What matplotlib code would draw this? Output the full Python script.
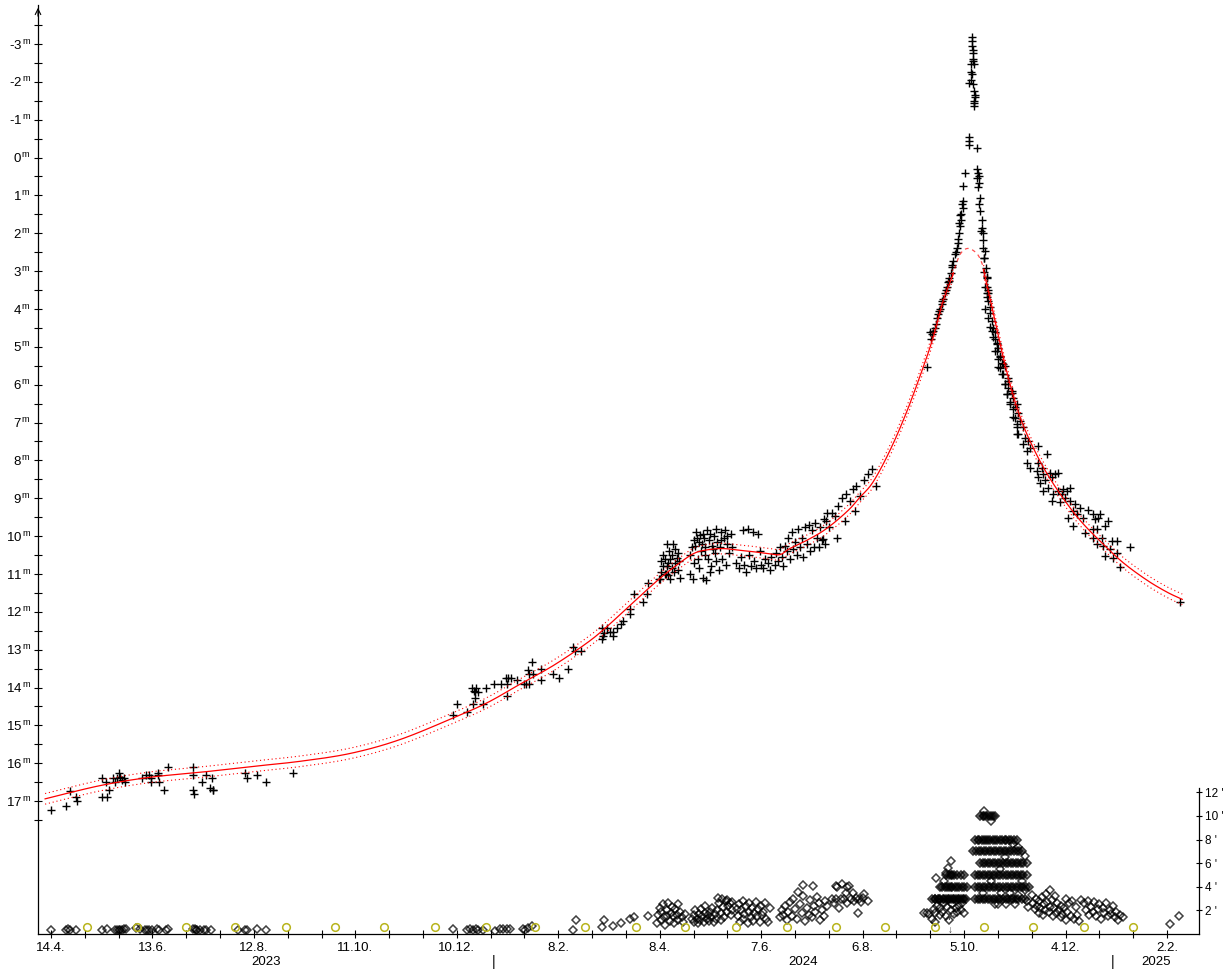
import datetime as dt
import numpy as np
import matplotlib
matplotlib.use('Agg')
import matplotlib.pyplot as plt
from matplotlib import transforms

plt.rcParams['font.family'] = ['Liberation Sans', 'DejaVu Sans']
plt.rcParams['mathtext.fontset'] = 'custom'
plt.rcParams['mathtext.rm'] = 'Liberation Sans'

# x axis runs in days counted from 14.4.2023
T0 = dt.date(2023, 4, 14)

# ---- total magnitude estimates (day, mag) ----
mag_2023 = [(0, 17.23), (8.9, 17.12), (11, 16.72), (15, 16.9), (15.4, 17.0), (30, 16.4), (30, 16.9),
            (33, 16.9), (32.5, 16.5), (34, 16.7), (36.7, 16.4), (37.8, 16.5), (39, 16.4), (40, 16.25),
            (41, 16.35), (42, 16.45), (43, 16.4), (44, 16.5), (54, 16.4), (56, 16.3), (58, 16.3),
            (59, 16.5), (59.3, 16.4), (63, 16.25), (63.5, 16.3), (64, 16.5), (67, 16.7), (69, 16.1),
            (84, 16.1), (84, 16.3), (84, 16.7), (84.5, 16.8), (89, 16.5), (91.5, 16.3), (95, 16.4),
            (95.5, 16.7), (94, 16.65), (96, 16.7), (115, 16.25), (116, 16.4), (122, 16.3), (127, 16.5),
            (143, 16.25)]

mag_rise = [(237.7, 14.72), (240, 14.43), (246, 14.64), (249.6, 14.43), (249, 14.0), (250, 14.1),
            (251, 14.13), (251.5, 14.0), (252.5, 14.13), (251, 14.27), (255.5, 14.43), (257, 14.0),
            (262, 13.9), (266, 13.9), (269, 13.74), (270, 13.74), (272, 13.74), (269.7, 13.9),
            (269.7, 14.21), (275.6, 13.8), (279.7, 13.9), (281, 13.9), (282.7, 13.9), (282, 13.53),
            (284.5, 13.32), (282.7, 13.63), (285, 13.63), (289.8, 13.8), (290, 13.5), (297, 13.63),
            (300.4, 13.74), (305.7, 13.5), (308.7, 12.92), (310, 13.03), (313.4, 13.03), (326, 12.42),
            (326.5, 12.63), (326, 12.73), (327, 12.55), (329, 12.42), (330.5, 12.52), (332.5, 12.52),
            (332.5, 12.63), (334.7, 12.42), (337, 12.31), (338, 12.23), (342.4, 11.92), (342.4, 12.05),
            (344.8, 11.52), (350, 11.73), (352.5, 11.52), (353, 11.23), (359.5, 11.12)]

mag_plateau = [(360.5, 10.65), (361, 10.95), (362, 10.5), (362, 10.8), (363, 10.6), (363, 10.99),
               (363.5, 11.0), (364, 10.78), (364.5, 10.2), (365, 10.7), (365, 11.04), (365.5, 10.4),
               (366, 10.6), (366, 11.12), (367, 10.49), (367.5, 10.83), (368, 10.2), (368.5, 10.95),
               (369, 10.7), (369, 10.33), (370, 10.57), (370.5, 10.44), (371, 10.9), (371.5, 10.65),
               (372, 11.1), (360, 11.12),
               (377.9, 10.99), (379.7, 11.12), (378, 10.5), (379, 10.3), (380, 10.1), (381, 10.25),
               (382, 10.05), (382.5, 10.6), (383, 10.15), (384, 9.98), (384.5, 10.4), (385.6, 11.1),
               (385, 10.2), (386, 10.05), (387.3, 11.15), (387, 10.3), (388, 9.85), (388.5, 10.6),
               (389, 10.1), (390, 9.95), (390.5, 10.8), (391, 10.25), (392, 10.0), (392.5, 10.45),
               (393, 9.8), (394, 10.15), (395, 10.9), (395.5, 10.3), (396, 9.9), (397, 10.6),
               (398, 10.05), (398.5, 9.83), (399, 10.75), (400, 10.2), (401, 10.45), (402, 9.95),
               (403, 10.3), (380.5, 10.7), (383.5, 10.85), (386.5, 10.5), (389.5, 10.95), (393.5, 10.65),
               (396.5, 10.1), (399.5, 10.0), (381.5, 9.9), (385.5, 9.95), (391.5, 10.35),
               (405, 10.7), (407, 10.85), (408, 10.55), (409, 9.85), (410, 10.75), (411, 10.95),
               (412, 9.82), (413, 10.5), (414, 10.8), (415, 9.9), (416, 10.65), (417, 10.85),
               (418, 9.95), (419, 10.4), (420, 10.75), (421, 10.85), (422, 10.6), (424, 10.7),
               (425, 10.9), (426, 10.55), (428, 10.75), (429, 10.45), (430, 10.65), (431, 10.3),
               (432, 10.55), (433, 10.8),
               (434, 10.25), (435, 10.4), (436, 10.05), (437, 10.6), (438, 9.9), (439, 10.35),
               (440, 10.15), (441, 10.5), (442, 9.8), (443, 10.3), (444, 10.05), (445, 10.55),
               (446, 9.75), (447, 10.2), (448, 9.7), (449, 10.4), (450, 9.85), (451, 10.3), (452, 9.65),
               (453, 10.05), (454, 10.3), (455, 9.75), (456, 10.1), (456.5, 10.07), (457, 9.55),
               (458, 10.2), (459, 9.4), (460, 9.75), (464.8, 10.04),
               (458.3, 9.59), (462, 9.4), (463.6, 9.46), (465.4, 9.2), (467.8, 8.98), (469.5, 9.59),
               (470, 8.88), (472.5, 9.06), (474.3, 8.75), (475.4, 9.33), (476, 8.67), (478.4, 8.93),
               (480.8, 8.53), (483, 8.37), (485.5, 8.22), (487.9, 8.67)]

mag_peak_in = [(517.8, 5.52), (519.8, 4.61), (520.9, 4.65), (521.8, 4.57), (523.4, 4.39), (523.8, 4.25),
               (524.7, 4.12), (525.7, 3.99), (526.7, 3.86), (527.7, 3.73), (528.7, 3.59), (529.7, 3.43),
               (530.7, 3.30), (531.2, 3.17), (532, 3.04), (532.6, 2.9), (533.6, 2.73), (534.6, 2.54),
               (535.6, 2.4), (536.2, 2.27), (536.5, 2.14), (537.1, 2.0), (537.6, 1.8), (538, 1.66),
               (538.2, 1.48), (538.6, 1.22), (539.2, 1.14), (539.6, 0.74), (540.6, 0.42), (539.5, 1.32),
               (537.5, 1.53), (537.2, 1.72), (520.5, 4.8), (522.5, 4.5), (525, 4.05), (527, 3.8),
               (529, 3.5), (531, 3.25), (533, 2.85), (535, 2.5),
               (544.5, -3.18), (544.8, -3.09), (544.5, -2.96), (545.1, -2.83), (545.4, -2.75),
               (545.1, -2.61), (543.9, -2.48), (546.0, -2.48), (543.9, -2.25), (543.0, -1.98),
               (545.1, -1.95), (546.0, -1.77), (546.4, -1.59), (546.0, -1.45), (545.8, -1.35),
               (543.0, -0.55), (543.0, -0.45), (543.0, -0.34), (547.8, -0.26), (545.5, -2.55),
               (544.8, -2.2), (546.2, -1.65), (545.6, -1.5), (544.0, -2.05)]

mag_peak_out = [(547.8, 0.29), (548.4, 0.42), (547.8, 0.55), (549, 0.66), (548.4, 0.79), (549.4, 1.06),
                (549, 1.22), (549.4, 1.4), (550.4, 1.66), (550.4, 1.85), (551, 2.0), (551.4, 2.19),
                (552.4, 2.46), (551.8, 2.64), (553, 2.91), (553.4, 3.17), (553.7, 3.43), (554.3, 3.59),
                (548.5, 0.48), (550, 1.93), (551, 2.38), (552, 2.64), (551.7, 3.03), (553.3, 3.16),
                (554.3, 3.51), (553.3, 3.69), (555.3, 3.96), (555.3, 4.48), (557.3, 4.75), (559.3, 4.92),
                (558.2, 5.10), (561.2, 5.28), (560.2, 5.54), (563.1, 5.45), (562.2, 5.71), (564.2, 5.98),
                (566.1, 5.89), (565.2, 6.24), (568.1, 6.16), (567.1, 6.51), (570.1, 6.60), (569.1, 6.86),
                (571.1, 7.04), (571.1, 7.30), (552.3, 3.43), (553.3, 3.59), (554.1, 3.78), (552.3, 3.99),
                (555.3, 4.10), (554.1, 4.23), (556.3, 4.31), (557.1, 4.49), (556.3, 4.57), (558.2, 4.62),
                (558.2, 4.78), (559.3, 4.89), (560, 5.02), (559.3, 5.10), (561.2, 5.23), (560, 5.31),
                (562.2, 5.42), (561.2, 5.55), (564.2, 5.50), (563, 5.71), (566, 5.81), (564.2, 5.97),
                (566, 6.08), (568.1, 6.21), (565.2, 6.24), (568.9, 6.34), (567.1, 6.47), (571.1, 6.50),
                (568.9, 6.63), (571.8, 6.74), (570.1, 6.87), (573, 6.95), (571.1, 7.13), (574.8, 7.13),
                (571.8, 7.29)]

mag_tail = [(576, 7.40), (577.8, 7.48), (574.8, 7.56), (577, 7.74), (579, 7.66), (583.7, 7.61),
            (588.8, 7.82), (577, 8.06), (579, 8.19), (583.7, 8.06), (582.9, 8.27), (585.9, 8.19),
            (583.7, 8.45), (586.6, 8.35), (584.9, 8.59), (587.8, 8.53), (590.8, 8.32), (591.8, 8.45),
            (593.7, 8.35), (595.5, 8.32), (586.6, 8.80), (589.6, 8.72), (592.5, 8.88), (591.8, 9.06),
            (595.5, 8.80), (597.7, 8.88), (598.5, 8.75), (600.6, 8.80), (602.6, 8.72), (596.7, 9.11),
            (599.6, 8.98), (602.6, 9.06), (605.6, 9.14), (604.4, 9.33), (608.5, 9.25), (601.4, 9.51),
            (606.6, 9.41), (610.3, 9.51), (604.4, 9.72), (613.2, 9.30), (616.2, 9.41), (619.2, 9.51),
            (617.4, 9.54), (620.3, 9.41), (625.1, 9.59), (623.3, 9.72), (616.2, 9.80), (618.4, 9.80),
            (611.5, 9.91), (616.2, 10.04), (621.3, 10.04), (627.3, 10.12), (630.2, 10.12), (618.4, 10.20),
            (622.1, 10.25), (626.3, 10.33), (630.2, 10.44), (638.1, 10.30), (623.3, 10.52), (628, 10.59),
            (632.2, 10.81), (667.7, 11.73)]

# ---- fitted light curve (day, mag) and its +/- band ----
fit_curve = [(-3.5, 16.94), (29, 16.59), (58.5, 16.37), (88, 16.24), (117.7, 16.09), (147, 15.95),
             (177, 15.74), (206, 15.38), (238, 14.80), (258, 14.40), (277, 13.92), (297, 13.42),
             (317, 12.82), (329, 12.38), (344, 11.76), (360, 11.12), (372, 10.70), (381, 10.44),
             (390, 10.35), (398, 10.33), (406, 10.37), (415, 10.41), (424, 10.46), (431, 10.49),
             (436, 10.35), (441, 10.24), (447, 10.11), (455, 9.91), (461, 9.72), (467, 9.50),
             (473, 9.25), (478, 8.99), (486, 8.58), (496, 7.75), (506, 6.72), (515.7, 5.55),
             (521.6, 4.76), (527.5, 3.80), (532.8, 3.17), (533.6, 3.05), (537.6, 2.56), (542.3, 2.40),
             (547.6, 2.54), (550.6, 2.80), (551.5, 2.98), (553.5, 3.36), (557, 4.06), (563, 5.25),
             (569, 6.28), (575, 7.08), (583, 7.86), (590.8, 8.48), (600.8, 9.14), (610.3, 9.67),
             (622, 10.2), (634, 10.70), (648, 11.16), (660, 11.48), (669, 11.67)]
fit_band = 0.14
dashed_from, dashed_to = 533.6, 551.5

# ---- coma diameter (day, arcmin) ----
coma_2023 = [(0, 0.35), (8.9, 0.35), (10, 0.4), (11, 0.3), (15, 0.3), (30, 0.3), (33, 0.4), (37.8, 0.3),
             (39, 0.35), (40, 0.3), (41, 0.35), (42, 0.3), (43, 0.4), (44.4, 0.45), (50, 0.5), (52.6, 0.4),
             (55.6, 0.35), (57, 0.3), (58, 0.35), (59.9, 0.3), (62.7, 0.4), (63.9, 0.35), (68, 0.35),
             (69.2, 0.4), (84, 0.45), (85, 0.4), (85.7, 0.35), (86.5, 0.3), (88, 0.3), (90.4, 0.3),
             (91.6, 0.35), (94.6, 0.3), (110.6, 0.35), (114.7, 0.3), (115.9, 0.3), (121.8, 0.4),
             (127.2, 0.3)]

coma_winter = [(237.7, 0.4), (246, 0.35), (247.8, 0.4), (249.6, 0.3), (251.3, 0.45), (252.5, 0.35),
               (255.5, 0.3), (262.6, 0.25), (265.5, 0.4), (267.3, 0.45), (269.7, 0.45), (271.4, 0.45),
               (279, 0.45), (280.3, 0.3), (282, 0.5), (284.5, 0.65), (308.5, 0.35), (310.3, 1.2),
               (325.7, 0.6), (327.2, 1.2), (332.4, 0.7), (337, 0.9), (342.4, 1.25), (345, 1.4),
               (353.2, 1.5)]

coma_spring = [(358.5, 0.9), (359, 1.6), (360, 2.2), (360.5, 1.2), (361, 1.9), (362, 2.5), (362.5, 1.4),
               (363, 0.8), (364, 2.0), (364.5, 1.5), (365, 2.6), (366, 1.1), (366.5, 1.8), (367, 2.3),
               (368, 1.5), (368.5, 0.9), (369, 2.1), (370, 1.6), (370.5, 2.5), (371, 1.2), (372, 1.9),
               (373, 1.4), (374, 1.0), (375, 1.7),
               (379, 1.3), (380, 1.0), (380.5, 1.6), (381, 2.0), (382, 1.3), (382.5, 0.9), (383, 1.7),
               (384, 1.2), (384.5, 2.1), (385, 1.5), (386, 1.0), (386.5, 1.8), (387, 2.4), (388, 1.3),
               (388.5, 1.6), (389, 1.1), (390, 1.9), (390.5, 1.4), (391, 2.2), (392, 1.0), (392.5, 1.7),
               (393, 1.3), (394, 2.0), (394.5, 3.05), (395, 2.6), (396, 1.2), (396.5, 1.8), (397, 3.0),
               (397.5, 2.3), (398, 1.4), (399, 2.8), (399.5, 1.9), (400, 2.9), (400.5, 2.4),
               (401.5, 2.6), (402, 1.6), (402.5, 2.7), (403, 2.0),
               (405.5, 2.1), (406, 1.5), (407, 2.5), (407.5, 1.0), (408, 2.0), (409, 2.8), (409.5, 1.3),
               (410, 1.7), (411, 2.4), (412, 0.9), (412.5, 1.9), (413, 2.6), (414, 1.4), (414.5, 2.2),
               (415, 1.1), (416, 1.8), (417, 2.7), (417.5, 1.5), (418, 2.1), (419, 1.0), (420, 2.4),
               (420.5, 1.6), (421, 1.9), (422, 2.6), (423, 1.3), (424, 1.0), (425, 2.2),
               (431, 1.4), (432, 2.0), (433, 1.6), (434, 2.4), (435, 1.2), (436, 1.9), (437, 2.7),
               (438, 1.5), (439, 3.0), (440, 2.1), (441, 1.3), (442, 3.6), (443, 2.5), (444, 1.8),
               (444.7, 4.15), (445, 3.2), (446, 1.1), (447, 2.2), (448, 1.6), (449, 2.9), (450, 1.4),
               (450.6, 4.05), (451, 2.4), (452, 1.9), (453, 3.1), (454, 2.6), (455, 1.2), (456, 2.0),
               (457, 1.5), (458, 2.8), (459, 2.4),
               (462, 3.0), (463, 2.6), (464, 4.1), (464.5, 3.0), (465, 4.0), (466, 2.2), (467, 3.0),
               (468, 4.2), (469, 3.0), (470, 3.5), (470.5, 4.0), (471, 2.6), (472, 4.05), (473, 3.0),
               (474, 3.5), (475, 2.8), (476, 3.05), (477, 1.8), (478, 3.0), (479, 2.7), (480, 3.05),
               (481, 3.4), (483, 2.8)]

rows_before_peak = {3: [521, 522.5, 523, 524.5, 525, 526, 527.5, 528, 529, 530.5, 531, 532, 533.5, 534,
                        535, 536.5, 537, 538, 539.5, 540, 541],
                    4: [525.5, 527, 528.5, 530, 531, 532, 533, 534.5, 536, 537, 538.5, 540, 541.5],
                    5: [529, 531, 532, 533, 534, 536, 538, 540]}
rows_after_peak = {3: [546.5, 548, 549.5, 551, 552.5, 554, 555.5, 557, 558.5, 560, 561.5, 563, 564.5,
                       566, 567.5, 569, 570.5, 572, 574, 576],
                   4: [546.5, 548, 549.5, 551, 552.5, 554, 555.5, 557, 558.5, 560, 561.5, 563, 564.5,
                       566, 567.5, 569, 570.5, 572, 573.5, 575, 576.5, 578.5],
                   5: [546.5, 548, 549.5, 551, 552.5, 554, 555.5, 557, 558.5, 560, 561.5, 563, 564.5,
                       566, 567.5, 569, 570.5, 572, 573.5, 575, 577],
                   6: [549.5, 551, 552.5, 554, 555.5, 557, 558.5, 560, 561.5, 563, 564.5, 566, 567.5,
                       569, 570.5, 572, 573.5, 575, 577],
                   7: [545.5, 547, 548.5, 550, 551.5, 553, 554.5, 556, 557.5, 559, 560.5, 562, 563.5,
                       565, 566.5, 568, 569.5, 571, 572.5, 574],
                   8: [546.5, 548, 549, 550.5, 552, 553, 554, 555.5, 557, 558, 559.5, 561, 562.5, 564,
                       565, 566.5, 568, 569.5, 571],
                   10: [549.5, 551, 552, 553, 554.5, 556, 557, 558.5]}
coma_peak_extra = [(532.4, 6.15), (530.2, 5.6), (529.5, 5.2), (523.5, 4.75), (528, 4.5),
                   (518, 1.8), (519.5, 1.7), (521, 1.3), (522, 2.1), (523, 1.8), (524, 2.4), (525.5, 1.6),
                   (526, 2.2), (527, 1.9), (528, 2.6), (529, 1.5), (530, 2.3), (531, 1.2), (532, 2.0),
                   (533, 2.5), (534, 1.7), (535, 2.2), (536, 1.9), (537, 2.4), (538, 2.0), (539, 2.6),
                   (540, 1.8), (522.7, 1.05), (516.5, 1.75),
                   (552, 10.45), (556, 9.6), (558, 2.5), (560, 2.5), (562, 3.5), (565, 2.5), (567, 3.5),
                   (570, 2.5), (572, 3.3), (574, 4.5), (576, 3.7), (577, 2.8), (578, 2.3), (576, 6.6),
                   (572, 7.4), (569, 7.6), (551, 3.5), (556, 4.5), (561, 5.5), (564, 6.5)]

coma_tail = [(580, 3.3), (581, 2.6), (582, 2.1), (582.5, 3.0), (583, 2.4), (584, 1.8), (584.5, 2.8),
             (585, 2.2), (586, 3.1), (586.5, 1.6), (587, 2.5), (588, 2.0), (588.5, 3.4), (589, 2.7),
             (590, 1.9), (590.5, 2.3), (591, 3.7), (592, 2.9), (592.5, 1.5), (593, 2.2), (594, 3.2),
             (594.5, 1.8), (595, 2.6), (596, 2.0), (597, 1.4), (597.5, 2.4), (598, 1.7), (599, 2.2),
             (600, 1.2), (600.5, 3.0), (601, 1.9), (602, 2.6), (603, 1.5), (604, 2.8), (605, 1.3),
             (606, 2.3), (607, 1.6), (608, 1.1), (609, 2.9), (611, 2.6), (612, 2.0), (613, 2.8),
             (614, 1.6), (615, 2.3), (616, 1.9), (617, 2.7), (618, 1.5), (619, 2.1), (620, 2.5),
             (621, 1.3), (622, 2.2), (623, 1.8), (624, 2.6), (625, 1.5), (626, 2.0), (627, 1.7),
             (628, 2.4), (629, 1.4), (630, 1.9), (631, 1.2), (632, 1.6), (634, 1.4),
             (661.7, 0.85), (667, 1.5)]

full_moons = ['2023-05-05', '2023-06-04', '2023-07-03', '2023-08-01', '2023-08-31', '2023-09-29',
              '2023-10-28', '2023-11-27', '2023-12-27', '2024-01-25', '2024-02-24', '2024-03-25',
              '2024-04-23', '2024-05-23', '2024-06-22', '2024-07-21', '2024-08-19', '2024-09-18',
              '2024-10-17', '2024-11-15', '2024-12-15', '2025-01-13']
moon_level = 0.57
perihelion = '2024-09-27'

label_dates = ['2023-04-14', '2023-06-13', '2023-08-12', '2023-10-11', '2023-12-10', '2024-02-08',
               '2024-04-08', '2024-06-07', '2024-08-06', '2024-10-05', '2024-12-04', '2025-02-02']
mag_ticks = list(range(-3, 18))
coma_ticks = [2, 4, 6, 8, 10, 12]


def day(s):
    return (dt.date.fromisoformat(s) - T0).days


def catmull_rom(pts, n=12):
    # smooth path through the read-off points of the fitted curve
    p = np.asarray(pts, dtype=float)
    p = np.vstack([p[0], p, p[-1]])
    out = []
    t = np.linspace(0, 1, n, endpoint=False)[:, None]
    for i in range(1, len(p) - 2):
        p0, p1, p2, p3 = p[i - 1], p[i], p[i + 1], p[i + 2]
        seg = 0.5 * ((2 * p1) + (-p0 + p2) * t + (2 * p0 - 5 * p1 + 4 * p2 - p3) * t ** 2
                     + (-p0 + 3 * p1 - 3 * p2 + p3) * t ** 3)
        out.append(seg)
    out.append(p[-2][None, :])
    return np.vstack(out)


x_min, x_max = -7.7, 678.9
edge = (0, 0, 0, 0.75)

fig = plt.figure(figsize=(12.27, 9.72), dpi=100)
W, H = 1227, 972
ax = fig.add_axes([38 / W, 38 / H, 1161 / W, 929 / H])
axd = fig.add_axes([38 / W, 38 / H, 1161 / W, 146 / H])

# magnitude estimates
for part in [mag_2023, mag_rise, mag_plateau, mag_peak_in, mag_peak_out, mag_tail]:
    d, m = zip(*part)
    ax.plot(d, m, '+', color='black', ms=5.5, mew=1.0, zorder=2)

# fitted curve, dashed around the maximum
curve = catmull_rom(fit_curve)
fd, fm = curve[:, 0], curve[:, 1]
solid_l = fd <= dashed_from
solid_r = fd >= dashed_to
peak = (fd >= dashed_from - 0.5) & (fd <= dashed_to + 0.5)
for msk in [solid_l, solid_r]:
    ax.plot(fd[msk], fm[msk], color='red', lw=0.9, zorder=3)
    ax.plot(fd[msk], fm[msk] - fit_band, color='red', lw=0.8, ls=(0, (1, 2.5)), zorder=3)
    ax.plot(fd[msk], fm[msk] + fit_band, color='red', lw=0.8, ls=(0, (1, 2.5)), zorder=3)
ax.plot(fd[peak], fm[peak], color='red', lw=0.9, ls=(0, (3, 3)), alpha=0.7, zorder=3)

ax.set_xlim(x_min, x_max)
ax.set_ylim(20.51, -4.03)
ax.spines['top'].set_visible(False)
ax.spines['right'].set_visible(False)
ax.spines['left'].set_linewidth(0.9)
ax.spines['bottom'].set_linewidth(0.9)

ax.set_yticks(mag_ticks)
ax.set_yticklabels([f'{v}$^{{\\,\\mathrm{{m}}}}$' for v in mag_ticks])
ax.set_yticks(np.arange(-3.5, 18, 1.0), minor=True)

ax.set_xticks([day(s) for s in label_dates])
ax.set_xticklabels([f'{dt.date.fromisoformat(s).day}.{dt.date.fromisoformat(s).month}.' for s in label_dates])
ax.set_xticks(np.arange(0, 661, 20), minor=True)
ax.tick_params(which='both', direction='inout', length=6, width=0.8, labelsize=9.5, pad=2)
ax.tick_params(axis='x', which='major', pad=3)
ax.annotate('', xy=(0, 1.0), xytext=(0, 0.985), xycoords='axes fraction',
            arrowprops=dict(arrowstyle='->', lw=0.8, color='black'))

# year row under the dates
trans = transforms.blended_transform_factory(ax.transData, ax.transAxes)
bounds = [x_min, day('2024-01-01'), day('2025-01-01'), x_max]
for i, yr in enumerate(['2023', '2024', '2025']):
    ax.text((bounds[i] + bounds[i + 1]) / 2, -0.030, yr, transform=trans,
            ha='center', va='center', fontsize=9.5)
for b in bounds[1:3]:
    ax.text(b, -0.030, '|', transform=trans, ha='center', va='center', fontsize=10)

# coma diameter panel
axd.patch.set_alpha(0)
for part in [coma_2023, coma_winter, coma_spring, coma_peak_extra, coma_tail]:
    d, c = zip(*part)
    axd.plot(d, c, 'D', mfc='none', mec=edge, ms=4, mew=1.1, zorder=2)
for rows in [rows_before_peak, rows_after_peak]:
    for level, days in rows.items():
        axd.plot(days, [level] * len(days), 'D', mfc=(0, 0, 0, 0.35), mec=edge, ms=4.3, mew=1.2, zorder=2)

axd.plot([day(s) for s in full_moons], [moon_level] * len(full_moons), 'o', mfc='none',
         mec='#b8b41c', ms=5.5, mew=1.1, zorder=3)
axd.text(day(perihelion), 1.47, 'P', ha='center', va='center', fontsize=8, color='#444444', zorder=4)
axd.text(day(perihelion), 0.3, '↓', ha='center', va='center', fontsize=7, color='#444444')

axd.set_xlim(x_min, x_max)
axd.set_ylim(0, 12.37)
for s in ['top', 'left', 'bottom']:
    axd.spines[s].set_visible(False)
axd.spines['right'].set_linewidth(0.9)
axd.set_xticks([])
axd.yaxis.tick_right()
axd.set_yticks(coma_ticks)
axd.set_yticklabels([f"{v} '" for v in coma_ticks])
axd.tick_params(axis='y', direction='inout', length=5, width=0.8, labelsize=8.5, pad=2)

fig.savefig('out.png', dpi=100)
